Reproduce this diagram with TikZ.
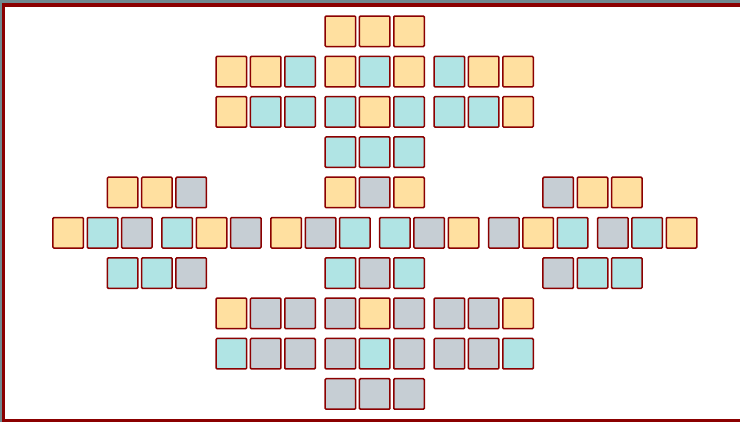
\documentclass[tikz,border=0pt]{standalone}
\usepackage{tikz}
\usetikzlibrary{
  positioning % 节点相对定位
}
\definecolor{bgslate}{RGB}{112,138,144}
\definecolor{framered}{RGB}{139,0,0}
\definecolor{sand}{RGB}{255,224,160}
\definecolor{ice}{RGB}{176,228,228}
\definecolor{ash}{RGB}{198,206,212}

% 一组三个方块：名称，中心 x，中心 y，三个颜色
\newcommand{\trio}[6]{%
  \node[cell, fill=#4] (#1a) at (#2-34.3, #3) {};
  \node[cell, fill=#5, right=3.8pt of #1a] (#1b) {};
  \node[cell, fill=#6, right=3.8pt of #1b] (#1c) {};
}

\begin{document}
\begin{tikzpicture}[x=1pt, y=-1pt,
  cell/.style={draw=framered, line width=1.5pt, minimum size=30.5pt,
    rounded corners=1pt, inner sep=0pt, outer sep=0pt}]
  % === 背景与边框 ===
  \useasboundingbox (0,0) rectangle (740,422);
  \fill[bgslate] (0,0) rectangle (740,422);
  \draw[framered, fill=white, line width=3.2pt] (3.8,5) rectangle (746,421);

  % === 第 0 行 ===
  \trio{rzm}{374.7}{31.3}{sand}{sand}{sand}

  % === 第 1、2 行 ===
  \trio{ral}{265.7}{71.6}{sand}{sand}{ice}
  \trio{ram}{374.7}{71.6}{sand}{ice}{sand}
  \trio{rar}{483.7}{71.6}{ice}{sand}{sand}
  \trio{rbl}{265.7}{111.9}{sand}{ice}{ice}
  \trio{rbm}{374.7}{111.9}{ice}{sand}{ice}
  \trio{rbr}{483.7}{111.9}{ice}{ice}{sand}

  % === 第 3 行 ===
  \trio{rcm}{374.7}{152.2}{ice}{ice}{ice}

  % === 第 4 行 ===
  \trio{rdl}{156.9}{192.5}{sand}{sand}{ash}
  \trio{rdm}{374.7}{192.5}{sand}{ash}{sand}
  \trio{rdr}{592.5}{192.5}{ash}{sand}{sand}

  % === 第 5 行（六组）===
  \trio{reu}{102.5}{232.8}{sand}{ice}{ash}
  \trio{rev}{211.5}{232.8}{ice}{sand}{ash}
  \trio{rew}{320.5}{232.8}{sand}{ash}{ice}
  \trio{rex}{429.2}{232.8}{ice}{ash}{sand}
  \trio{rey}{538.2}{232.8}{ash}{sand}{ice}
  \trio{rez}{647.2}{232.8}{ash}{ice}{sand}

  % === 第 6 行 ===
  \trio{rfl}{156.9}{273.1}{ice}{ice}{ash}
  \trio{rfm}{374.7}{273.1}{ice}{ash}{ice}
  \trio{rfr}{592.5}{273.1}{ash}{ice}{ice}

  % === 第 7、8 行 ===
  \trio{rgl}{265.7}{313.4}{sand}{ash}{ash}
  \trio{rgm}{374.7}{313.4}{ash}{sand}{ash}
  \trio{rgr}{483.7}{313.4}{ash}{ash}{sand}
  \trio{rhl}{265.7}{353.7}{ice}{ash}{ash}
  \trio{rhm}{374.7}{353.7}{ash}{ice}{ash}
  \trio{rhr}{483.7}{353.7}{ash}{ash}{ice}

  % === 第 9 行 ===
  \trio{rim}{374.7}{394.0}{ash}{ash}{ash}
\end{tikzpicture}
\end{document}
